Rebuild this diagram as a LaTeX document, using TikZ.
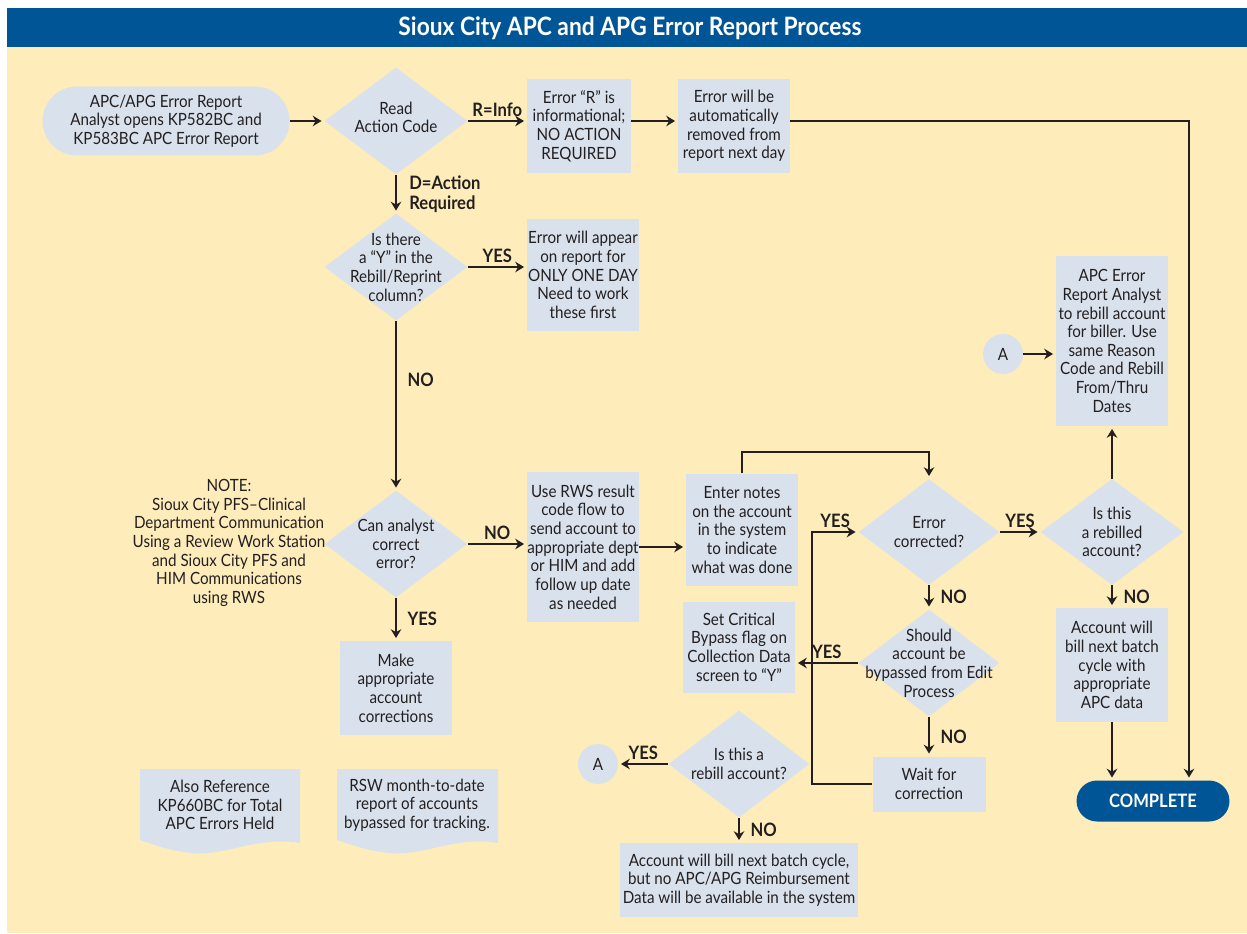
\documentclass[tikz,border=0pt]{standalone}
\usepackage{fontspec}
\setmainfont{Lato}[FakeStretch=0.9]
\usetikzlibrary{arrows.meta,shapes.geometric}

\definecolor{bgyellow}{HTML}{FEEDBB}
\definecolor{boxblue}{HTML}{D9E1EC}
\definecolor{titleblue}{HTML}{005596}
\definecolor{ink}{HTML}{231F20}

\tikzset{
  box/.style={rectangle, fill=boxblue, align=center, inner sep=0pt},
  decision/.style={diamond, fill=boxblue, inner sep=0pt, minimum width=2.86cm, minimum height=2.14cm},
  dtext/.style={align=center, inner sep=0pt},
  terminal/.style={rectangle, fill=boxblue, rounded corners=0.69cm, align=center, inner sep=0pt},
  connector/.style={circle, fill=boxblue, minimum size=0.8cm, inner sep=0pt},
  arr/.style={-{Stealth[length=5pt,width=6pt]}, line width=1.1pt, draw=ink, shorten >=1.5pt},
  lbl/.style={font=\fontsize{10.5}{11.5}\selectfont\bfseries, inner sep=2pt}
}

\begin{document}
\begin{tikzpicture}[x=0.02cm, y=-0.02cm, font=\fontsize{9.6}{10.6}\selectfont, text=ink]
	\useasboundingbox (0,0) rectangle (1247,933);
	% background and title band
	\fill[bgyellow] (7,47) rectangle (1247,933);
	\fill[titleblue] (7,8) rectangle (1247,47);
	\node (title) at (630,28) [text=white, font=\fontsize{14.4}{16}\selectfont\bfseries] {Sioux City APC and APG Error Report Process};

	% top row
	\node (start) at (166,121) [terminal, minimum width=4.94cm, minimum height=1.38cm] {APC/APG Error Report\\Analyst opens KP582BC and\\KP583BC APC Error Report};
	\node (read) at (396,121) [decision, label={[dtext, yshift=2pt]center:Read\\Action Code}] {};
	\node (info) at (579,126) [box, minimum width=2.08cm, minimum height=1.88cm] {Error “R” is\\informational;\\NO ACTION\\REQUIRED};
	\node (removed) at (734,126) [box, minimum width=2.24cm, minimum height=1.88cm] {Error will be\\automatically\\removed from\\report next day};

	% left column
	\node (rebillY) at (396,267) [decision, label={[dtext]center:Is there\\a “Y” in the\\Rebill/Reprint\\column?}] {};
	\node (oneday) at (583,275) [box, minimum width=2.24cm, minimum height=2.26cm] {Error will appear\\on report for\\ONLY ONE DAY\\Need to work\\these first};
	\node (canfix) at (396,544) [decision, label={[dtext]center:Can analyst\\correct\\error?}] {};
	\node (note) at (229,543) [align=center] {NOTE:\\Sioux City PFS–Clinical\\Department Communication\\Using a Review Work Station\\and Sioux City PFS and\\HIM Communications\\using RWS};
	\node (rws) at (583,547) [box, minimum width=2.24cm, minimum height=3.0cm] {Use RWS result\\code flow to\\send account to\\appropriate dept\\or HIM and add\\follow up date\\as needed};
	\node (make) at (396,688) [box, minimum width=2.24cm, minimum height=1.88cm] {Make\\appropriate\\account\\corrections};

	% middle part
	\node (notes) at (742,530) [box, minimum width=2.24cm, minimum height=2.26cm] {Enter notes\\on the account\\in the system\\to indicate\\what was done};
	\node (corrected) at (929,532) [decision, minimum width=2.82cm, minimum height=2.12cm, label={[dtext]center:Error\\corrected?}] {};
	\node (bypass) at (929,663) [decision, minimum width=2.82cm, minimum height=2.14cm, label={[dtext]center:Should\\account be\\bypassed from Edit\\Process}] {};
	\node (critical) at (739,647) [box, minimum width=2.24cm, minimum height=1.82cm] {Set Critical\\Bypass flag on\\Collection Data\\screen to “Y”};
	\node (wait) at (929,784) [box, minimum width=2.26cm, minimum height=1.1cm] {Wait for\\correction};
	\node (rebill2) at (739,764) [decision, minimum width=2.82cm, minimum height=2.14cm, label={[dtext]center:Is this a\\rebill account?}] {};
	\node (circA2) at (598,764) [connector] {A};
	\node (nobill) at (739,880) [box, minimum width=4.76cm, minimum height=1.48cm] {Account will bill next batch cycle,\\but no APC/APG Reimbursement\\Data will be available in the system};

	% right column
	\node (rebilled) at (1112,532) [decision, minimum width=2.86cm, minimum height=2.12cm, label={[dtext]center:Is this\\a rebilled\\account?}] {};
	\node (rebillbox) at (1112,341) [box, minimum width=2.24cm, minimum height=3.4cm] {APC Error\\Report Analyst\\to rebill account\\for biller. Use\\same Reason\\Code and Rebill\\From/Thru\\Dates};
	\node (circA) at (1003,354) [connector] {A};
	\node (nextbatch) at (1112,665) [box, minimum width=2.24cm, minimum height=2.28cm] {Account will\\bill next batch\\cycle with\\appropriate\\APC data};
	\node (complete) at (1153,801) [rectangle, fill=titleblue, rounded corners=0.41cm, minimum width=3.06cm, minimum height=0.82cm, text=white, font=\fontsize{10.5}{11}\selectfont\bfseries] {COMPLETE};

	% documents
	\fill[boxblue] (140,769) -- (300,769) -- (300,843) .. controls (255,836) and (228,856) .. (192,853) .. controls (170,851) and (155,845) .. (140,840) -- cycle;
	\node (alsoref) at (220,805) [align=center] {Also Reference\\KP660BC for Total\\APC Errors Held};
	\fill[boxblue] (337,769) -- (498,769) -- (498,843) .. controls (453,836) and (426,856) .. (390,853) .. controls (368,851) and (352,845) .. (337,840) -- cycle;
	\node (rsw) at (417,805) [align=center] {RSW month-to-date\\report of accounts\\bypassed for tracking.};

	% connectors
	\draw[arr] (start) -- (read);
	\draw[arr] (read.east) -- node[lbl, above] {R=Info} (read.east -| info.west);
	\draw[arr] (read.east -| info.east) -- (read.east -| removed.west);
	\draw[arr] (read.east -| removed.east) -| ([xshift=0.72cm]complete.north);
	\draw[arr] (read) -- node[lbl, right=5pt, align=left] {D=Action\\Required} (rebillY);
	\draw[arr] (rebillY.east) -- node[lbl, above] {YES} (rebillY.east -| oneday.west);
	\draw[arr] (rebillY) -- node[lbl, right=4pt, pos=0.35] {NO} (canfix);
	\draw[arr] (canfix.east) -- node[lbl, above] {NO} (canfix.east -| rws.west);
	\draw[arr] (canfix) -- node[lbl, right=4pt] {YES} (make);
	\draw[arr] (rws.east) -- (rws.east -| notes.west);
	\draw[arr] (notes.north) -- ++(0,-21) -| (corrected.north);
	\draw[arr] (corrected) -- node[lbl, above] {YES} (rebilled);
	\draw[arr] (rebilled) -- (rebillbox);
	\draw[arr] (circA) -- (circA -| rebillbox.west);
	\draw[arr] (rebilled) -- node[lbl, right=4pt] {NO} (nextbatch);
	\draw[arr] (nextbatch.south) -- (nextbatch.south |- complete.north);
	\draw[arr] (corrected) -- node[lbl, right=4pt] {NO} (bypass);
	\draw[arr] (bypass.west) -- node[lbl, above] {YES} (bypass.west -| critical.east);
	\draw[arr] (bypass) -- node[lbl, right=4pt] {NO} (wait);
	\draw[arr] (wait.west) -- ++(-60,0) |- node[lbl, above, pos=0.75] {YES} (corrected.west);
	\draw[arr] (rebill2) -- node[lbl, above] {YES} (circA2);
	\draw[arr] (rebill2) -- node[lbl, right=4pt] {NO} (nobill);
\end{tikzpicture}
\end{document}
